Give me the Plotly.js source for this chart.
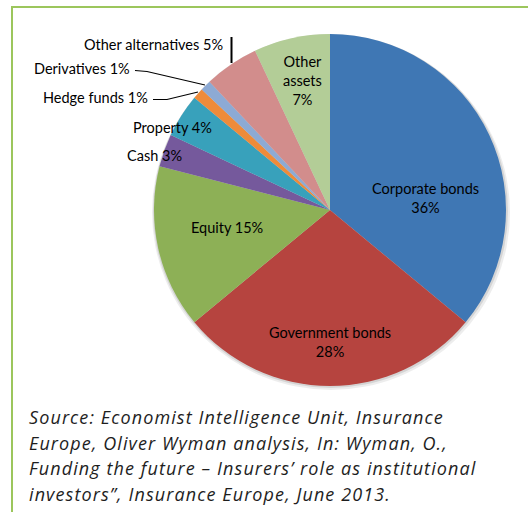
<!DOCTYPE html>
<html>
<head>
<meta charset="utf-8">
<script src="https://cdn.plot.ly/plotly-3.0.1.min.js"></script>
<style>
html,body{margin:0;padding:0;background:#fff;}
#chart{width:528px;height:512px;}
</style>
</head>
<body>
<div id="chart"></div>
<script>
// Data
const categories = ["Corporate bonds","Government bonds","Equity","Cash","Property","Hedge funds","Derivatives","Other alternatives","Other assets"];
const shares = [36, 28, 15, 3, 4, 1, 1, 5, 7];
const labelTexts = ["Corporate bonds<br>36%","Government bonds<br>28%","Equity 15%","Cash 3%","Property 4%","Hedge funds 1%","Derivatives 1%","Other alternatives 5%","Other<br>assets<br>7%"];
const sliceColors = ["#3F77B4","#B6443F","#8DB056","#75599C","#38A1BB","#EE8B3A","#8DAAD4","#D28D8C","#B3CD97"];
const sourceLines = [
  "Source: Economist Intelligence Unit, Insurance",
  "Europe, Oliver Wyman analysis, In: Wyman, O.,",
  "Funding the future \u2013 Insurers\u2019 role as institutional",
  "investors\u201d, Insurance Europe, June 2013."
];

const W = 528, H = 512;
const px = x => x / W;
const py = y => 1 - y / H;

// label positions (pixel space of the page), leader lines
const labelPos = [
  {x:425, y:198, xa:"center"},
  {x:330, y:342, xa:"center"},
  {x:227, y:227, xa:"center"},
  {x:184, y:155, xa:"right"},
  {x:214, y:127, xa:"right"},
  {x:150, y:97, xa:"right"},
  {x:132, y:68, xa:"right"},
  {x:225, y:44, xa:"right"},
  {x:302, y:80, xa:"center"}
];

const annotations = labelTexts.map((t, i) => ({
  text: t, xref: "paper", yref: "paper",
  x: px(labelPos[i].x), y: py(labelPos[i].y),
  xanchor: labelPos[i].xa, yanchor: "middle",
  showarrow: false, align: "center",
  font: {family: "Lato, 'Open Sans', sans-serif", size: 14.5, color: "#000"}
}));

const srcY = [417, 442.5, 468, 493.5];
sourceLines.forEach((t, i) => {
  annotations.push({
    text: "<i>" + t + "</i>", xref: "paper", yref: "paper",
    x: px(27), y: py(srcY[i]), xanchor: "left", yanchor: "middle",
    showarrow: false, align: "left",
    font: {family: "'Open Sans', Roboto, sans-serif", size: 18, color: "#1e1e1e"}
  });
});

function pathFromPts(pts){
  return pts.map((p, i) => (i ? "L" : "M") + px(p[0]) + "," + py(p[1])).join(" ");
}

const shapes = [
  // frame
  {type:"rect", xref:"paper", yref:"paper", x0:px(12), x1:1.1, y0:-0.1, y1:py(7),
   line:{color:"#9CC65C", width:2}, fillcolor:"rgba(0,0,0,0)", layer:"below"},
  // soft shadow under pie
  {type:"circle", xref:"paper", yref:"paper", x0:px(152), x1:px(510), y0:py(390), y1:py(35),
   line:{width:0}, fillcolor:"rgba(0,0,0,0.07)", layer:"below"},
  {type:"circle", xref:"paper", yref:"paper", x0:px(153), x1:px(508), y0:py(388), y1:py(34),
   line:{width:0}, fillcolor:"rgba(0,0,0,0.10)", layer:"below"},
  // leader lines
  {type:"line", xref:"paper", yref:"paper", x0:px(231.5), x1:px(231.5), y0:py(37), y1:py(63),
   line:{color:"#000", width:2}},
  {type:"path", xref:"paper", yref:"paper", path:"", line:{color:"#000", width:1.2}, _pts:[[135,70.5],[147,71.5],[205,85]]},
  {type:"path", xref:"paper", yref:"paper", path:"", line:{color:"#000", width:1.2}, _pts:[[153,99.5],[167,99.5],[198,92]]}
];
shapes.forEach(s => { if (s._pts) { s.path = pathFromPts(s._pts); delete s._pts; } });

const trace = {
  type: "pie",
  labels: categories,
  values: shares,
  sort: false,
  direction: "clockwise",
  rotation: 0,
  textinfo: "none",
  hoverinfo: "label+percent",
  marker: {colors: sliceColors, line: {width: 0}},
  domain: {x: [px(154), px(506)], y: [py(386), py(34)]},
  showlegend: false
};

const layout = {
  width: W, height: H,
  margin: {l:0, r:0, t:0, b:0},
  paper_bgcolor: "#fff",
  plot_bgcolor: "#fff",
  showlegend: false,
  annotations: annotations,
  shapes: shapes
};

Plotly.newPlot("chart", [trace], layout, {displayModeBar: false, staticPlot: true}).then(() => {
  document.querySelectorAll("#chart .annotation").forEach(g => {
    if (+g.getAttribute("data-index") >= labelTexts.length) {
      const t = g.querySelector("text");
      if (t) t.style.letterSpacing = "1.1px";
    }
  });
});
</script>
</body>
</html>
